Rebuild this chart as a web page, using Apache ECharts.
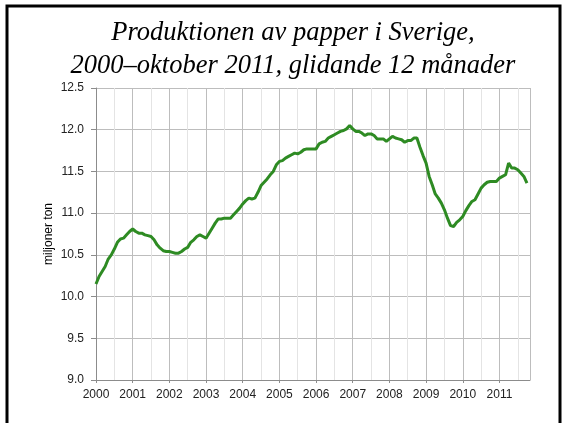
<!DOCTYPE html>
<html>
<head>
<meta charset="utf-8">
<title>Produktionen av papper i Sverige</title>
<script src="https://cdn.jsdelivr.net/npm/echarts@6/dist/echarts.min.js"></script>
<style>
  html, body { margin: 0; padding: 0; background: #fff; }
  #main { width: 568px; height: 423px; }
</style>
</head>
<body>
<div id="main"></div>
<script>
// år som visas på x-axeln (varje år = 12 månader)
var years = ["2000", "2001", "2002", "2003", "2004", "2005", "2006", "2007", "2008", "2009", "2010", "2011"];

// glidande 12 månader, miljoner ton, jan 2000 - okt 2011
var prod2000 = [10.15, 10.24, 10.30, 10.36, 10.45, 10.50, 10.57, 10.65, 10.69, 10.70, 10.74, 10.78];
var prod2001 = [10.81, 10.78, 10.76, 10.76, 10.74, 10.73, 10.72, 10.68, 10.62, 10.58, 10.55, 10.54];
var prod2002 = [10.54, 10.53, 10.52, 10.52, 10.54, 10.57, 10.59, 10.65, 10.68, 10.72, 10.74, 10.72];
var prod2003 = [10.70, 10.76, 10.82, 10.88, 10.93, 10.93, 10.94, 10.94, 10.94, 10.98, 11.02, 11.06];
var prod2004 = [11.11, 11.15, 11.18, 11.17, 11.18, 11.25, 11.33, 11.37, 11.41, 11.46, 11.50, 11.58];
var prod2005 = [11.62, 11.63, 11.66, 11.68, 11.70, 11.72, 11.71, 11.73, 11.76, 11.77, 11.77, 11.77];
var prod2006 = [11.77, 11.83, 11.85, 11.86, 11.90, 11.92, 11.94, 11.96, 11.98, 11.99, 12.01, 12.05];
var prod2007 = [12.01, 11.98, 11.98, 11.96, 11.93, 11.95, 11.95, 11.93, 11.89, 11.89, 11.89, 11.86];
var prod2008 = [11.89, 11.92, 11.90, 11.89, 11.88, 11.85, 11.87, 11.87, 11.90, 11.90, 11.79, 11.69];
var prod2009 = [11.60, 11.44, 11.34, 11.23, 11.18, 11.12, 11.04, 10.94, 10.85, 10.84, 10.89, 10.92];
var prod2010 = [10.96, 11.03, 11.09, 11.14, 11.16, 11.23, 11.30, 11.34, 11.37, 11.38, 11.38, 11.38];
var prod2011 = [11.42, 11.44, 11.46, 11.60, 11.54, 11.54, 11.52, 11.48, 11.44, 11.36];

var yTicks = [9.0, 9.5, 10.0, 10.5, 11.0, 11.5, 12.0, 12.5];

// slå ihop alla år till en serie [månadsindex, värde]
var allYears = [prod2000, prod2001, prod2002, prod2003, prod2004, prod2005,
                prod2006, prod2007, prod2008, prod2009, prod2010, prod2011];
var seriesData = [];
for (var i = 0; i < allYears.length; i++) {
    for (var j = 0; j < allYears[i].length; j++) {
        seriesData.push([i * 12 + j, allYears[i][j]]);
    }
}

var option = {
    animation: false,
    backgroundColor: '#fff',
    // ram runt diagrammet
    graphic: [{
        type: 'rect',
        shape: { x: 7, y: 6, width: 553, height: 440 },
        style: { fill: 'none', stroke: '#000', lineWidth: 3 },
        silent: true
    }],
    title: {
        text: 'Produktionen av papper i Sverige,\n2000\u2013oktober 2011, glidande 12 m\u00e5nader',
        left: 293,
        top: 17,
        padding: 0,
        textAlign: 'center',
        textStyle: {
            fontFamily: 'Liberation Serif',
            fontStyle: 'italic',
            fontWeight: 'normal',
            fontSize: 26.5,
            lineHeight: 32.5,
            color: '#000'
        }
    },
    grid: {
        left: 96,
        right: 38,
        top: 88,
        bottom: 43
    },
    xAxis: {
        type: 'value',
        min: 0,
        max: 142,
        interval: 12,
        axisLine: { lineStyle: { color: '#8c8c8c', width: 1 } },
        axisTick: { show: true, length: 3, lineStyle: { color: '#8c8c8c' } },
        axisLabel: {
            margin: 9,
            fontFamily: 'Liberation Sans',
            fontSize: 12,
            color: '#222',
            showMaxLabel: false,
            formatter: function (v) {
                var k = Math.round(v / 12);
                return v % 12 === 0 && years[k] ? years[k] : '';
            }
        },
        splitLine: { show: true, lineStyle: { color: '#bdbdbd', width: 1 } },
        minorTick: { show: false, splitNumber: 2 },
        minorSplitLine: { show: true, lineStyle: { color: '#e4e4e4', width: 1 } }
    },
    yAxis: {
        type: 'value',
        min: yTicks[0],
        max: yTicks[yTicks.length - 1],
        interval: 0.5,
        name: 'miljoner ton',
        nameLocation: 'middle',
        nameGap: 41,
        nameMoveOverlap: false,
        nameTextStyle: { fontFamily: 'Liberation Sans', fontSize: 12, color: '#000' },
        axisLine: { show: true, lineStyle: { color: '#8c8c8c', width: 1 } },
        axisTick: { show: true, length: 5, lineStyle: { color: '#8c8c8c' } },
        axisLabel: {
            margin: 12,
            fontFamily: 'Liberation Sans',
            fontSize: 12,
            color: '#222',
            formatter: function (v) { return v.toFixed(1); }
        },
        splitLine: { show: true, lineStyle: { color: '#bdbdbd', width: 1 } }
    },
    series: [{
        name: 'Produktion',
        type: 'line',
        data: seriesData,
        showSymbol: false,
        smooth: false,
        lineStyle: { color: '#2e8b23', width: 3 },
        itemStyle: { color: '#2e8b23' }
    }]
};

var myChart = echarts.init(document.getElementById('main'), null, { renderer: 'canvas' });
myChart.setOption(option);
</script>
</body>
</html>
